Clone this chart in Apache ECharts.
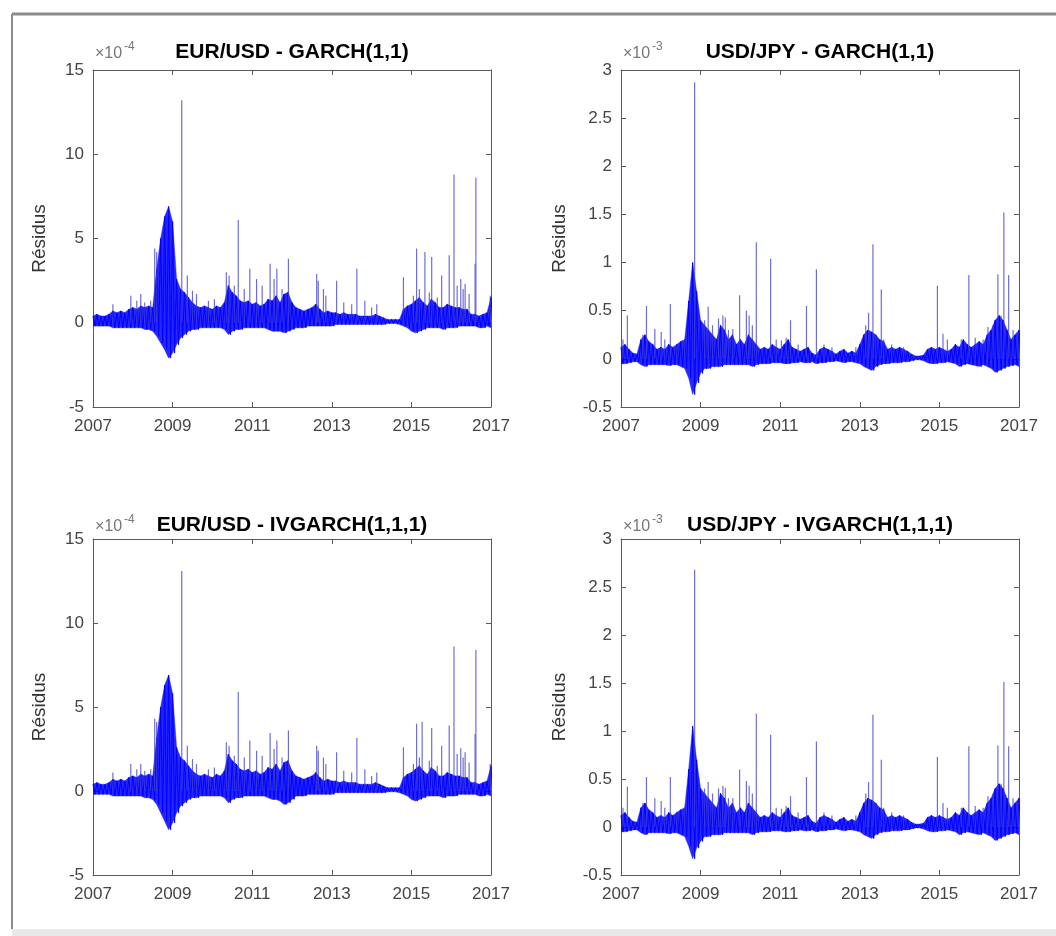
<!DOCTYPE html>
<html>
<head>
<meta charset="utf-8">
<title>Résidus GARCH / IVGARCH</title>
<script src="https://cdn.jsdelivr.net/npm/echarts@6/dist/echarts.min.js"></script>
<style>
  html, body { margin: 0; padding: 0; background: #fff; }
  #chart { width: 1056px; height: 936px; }
</style>
</head>
<body>
<div id="chart"></div>
<script>
// band envelopes sampled every 0.1 year from 2007.0 to 2017.0 (units: x10^-4 for EUR, x10^-3 for JPY)
const eurGarchUpper = [
  0.4, 0.5, 0.4, 0.4, 0.5, 0.7, 0.6, 0.7, 0.6, 0.8,
  0.9, 0.8, 1.0, 0.9, 1.0, 0.9, 3.2, 5.0, 6.3, 6.9,
  6.0, 2.6, 2.0, 1.8, 1.5, 1.2, 1.0, 0.9, 1.0, 0.9,
  0.8, 1.0, 0.9, 1.2, 2.2, 1.8, 1.6, 1.3, 1.2, 1.3,
  1.1, 1.2, 1.0, 1.1, 1.4, 1.3, 1.6, 1.2, 1.7, 1.8,
  1.2, 0.9, 0.8, 0.7, 0.8, 0.9, 1.1, 0.8, 0.6, 0.7,
  0.6, 0.6, 0.5, 0.6, 0.5, 0.5, 0.5, 0.4, 0.4, 0.4,
  0.4, 0.5, 0.4, 0.3, 0.2, 0.2, 0.2, 0.2, 0.8, 1.0,
  1.1, 1.3, 1.5, 1.2, 1.0, 1.4, 1.2, 0.9, 0.9, 1.1,
  1.0, 0.9, 0.9, 0.8, 0.8, 0.5, 0.5, 0.4, 0.5, 0.6, 1.5
];
const eurGarchLower = [
  -0.2, -0.2, -0.2, -0.2, -0.2, -0.3, -0.3, -0.3, -0.3, -0.3,
  -0.3, -0.3, -0.3, -0.4, -0.4, -0.5, -0.8, -1.2, -1.6, -2.1,
  -1.8, -1.3, -0.9, -0.7, -0.5, -0.4, -0.4, -0.3, -0.3, -0.3,
  -0.3, -0.3, -0.3, -0.4, -0.7, -0.5, -0.4, -0.4, -0.3, -0.3,
  -0.3, -0.3, -0.3, -0.3, -0.4, -0.5, -0.5, -0.5, -0.6, -0.5,
  -0.4, -0.3, -0.3, -0.3, -0.2, -0.2, -0.2, -0.2, -0.2, -0.2,
  -0.2, -0.1, -0.1, -0.1, -0.1, -0.1, -0.1, -0.1, -0.1, -0.1,
  -0.1, -0.1, -0.1, -0.1, -0.05, -0.05, -0.05, -0.1, -0.2, -0.3,
  -0.5, -0.6, -0.5, -0.4, -0.3, -0.3, -0.3, -0.3, -0.4, -0.3,
  -0.3, -0.3, -0.2, -0.2, -0.2, -0.2, -0.2, -0.3, -0.3, -0.2, -0.3
];
const eurGarchSpikeYears = [
  2007.50, 2007.95, 2008.10, 2008.20, 2008.30, 2008.45, 2008.55, 2008.60, 2009.23, 2009.37,
  2009.50, 2009.60, 2009.90, 2010.05, 2010.35, 2010.42, 2010.55, 2010.65, 2010.80, 2010.94,
  2011.11, 2011.25, 2011.45, 2011.55, 2011.62, 2011.75, 2011.91, 2012.62, 2012.66, 2012.79,
  2012.85, 2013.12, 2013.30, 2013.50, 2013.63, 2013.83, 2014.00, 2014.13, 2014.80, 2015.05,
  2015.13, 2015.20, 2015.34, 2015.45, 2015.51, 2015.65, 2015.76, 2015.95, 2016.07, 2016.15,
  2016.24, 2016.30, 2016.35, 2016.45, 2016.60, 2016.62, 2016.98
];
const eurGarchSpikeVals = [
  1.1, 1.6, 1.3, 1.7, 1.2, 1.3, 4.4, 4.2, 13.2, 2.8,
  1.9, 1.7, 1.3, 1.4, 3.0, 2.8, 2.2, 6.1, 2.0, 3.2,
  2.6, 2.2, 3.5, 2.6, 3.2, 2.0, 3.8, 2.9, 2.5, 2.0,
  1.6, 2.5, 1.2, 1.1, 3.2, 1.3, 0.9, 1.1, 2.7, 1.6,
  4.4, 2.0, 4.2, 1.8, 3.9, 1.5, 2.8, 4.0, 8.8, 2.2,
  2.6, 2.0, 2.3, 1.7, 3.5, 8.6, 1.6
];

const eurIvUpper = [
  0.4, 0.5, 0.4, 0.4, 0.5, 0.7, 0.6, 0.7, 0.6, 0.8,
  0.9, 0.8, 1.0, 0.9, 1.0, 0.9, 3.2, 5.0, 6.3, 6.9,
  5.8, 2.6, 2.0, 1.8, 1.5, 1.2, 1.0, 0.9, 1.0, 0.9,
  0.8, 1.0, 0.9, 1.2, 2.2, 1.8, 1.6, 1.3, 1.2, 1.3,
  1.1, 1.2, 1.0, 1.1, 1.4, 1.3, 1.6, 1.2, 1.7, 1.8,
  1.2, 0.9, 0.8, 0.7, 0.8, 0.9, 1.1, 0.8, 0.6, 0.7,
  0.6, 0.6, 0.5, 0.6, 0.5, 0.5, 0.5, 0.4, 0.4, 0.4,
  0.4, 0.5, 0.4, 0.3, 0.2, 0.2, 0.2, 0.2, 0.8, 1.0,
  1.1, 1.3, 1.5, 1.2, 1.0, 1.4, 1.2, 0.9, 0.9, 1.1,
  1.0, 0.9, 0.9, 0.8, 0.8, 0.5, 0.5, 0.4, 0.5, 0.6, 1.5
];
const eurIvLower = [
  -0.2, -0.2, -0.2, -0.2, -0.2, -0.3, -0.3, -0.3, -0.3, -0.3,
  -0.3, -0.3, -0.3, -0.4, -0.4, -0.5, -0.8, -1.3, -1.8, -2.3,
  -1.9, -1.3, -0.9, -0.7, -0.5, -0.4, -0.4, -0.3, -0.3, -0.3,
  -0.3, -0.3, -0.3, -0.4, -0.7, -0.5, -0.4, -0.4, -0.3, -0.3,
  -0.3, -0.3, -0.3, -0.3, -0.4, -0.5, -0.5, -0.6, -0.8, -0.7,
  -0.5, -0.3, -0.3, -0.3, -0.2, -0.2, -0.2, -0.2, -0.2, -0.2,
  -0.2, -0.1, -0.1, -0.1, -0.1, -0.1, -0.1, -0.1, -0.1, -0.1,
  -0.1, -0.1, -0.1, -0.1, -0.05, -0.05, -0.05, -0.1, -0.2, -0.3,
  -0.5, -0.6, -0.5, -0.4, -0.3, -0.3, -0.3, -0.3, -0.4, -0.3,
  -0.3, -0.3, -0.2, -0.2, -0.2, -0.2, -0.2, -0.3, -0.3, -0.2, -0.3
];
const eurIvSpikeYears = [
  2007.50, 2007.95, 2008.10, 2008.20, 2008.30, 2008.45, 2008.55, 2008.60, 2009.23, 2009.37,
  2009.50, 2009.60, 2009.90, 2010.05, 2010.35, 2010.42, 2010.55, 2010.65, 2010.80, 2010.94,
  2011.11, 2011.25, 2011.45, 2011.55, 2011.62, 2011.75, 2011.91, 2012.62, 2012.66, 2012.79,
  2012.85, 2013.12, 2013.30, 2013.50, 2013.63, 2013.83, 2014.00, 2014.13, 2014.80, 2015.05,
  2015.13, 2015.20, 2015.27, 2015.45, 2015.51, 2015.65, 2015.76, 2015.95, 2016.07, 2016.15,
  2016.24, 2016.30, 2016.35, 2016.45, 2016.60, 2016.62, 2016.98
];
const eurIvSpikeVals = [
  1.1, 1.6, 1.3, 1.6, 1.2, 1.3, 4.3, 4.1, 13.1, 2.7,
  1.9, 1.6, 1.3, 1.4, 2.9, 2.7, 2.1, 5.9, 2.0, 3.0,
  2.4, 2.1, 3.45, 2.5, 3.0, 2.0, 3.6, 2.7, 2.4, 2.0,
  1.6, 2.3, 1.2, 1.1, 3.15, 1.3, 0.9, 1.1, 2.6, 1.6,
  4.0, 2.0, 4.1, 1.8, 3.75, 1.5, 2.7, 3.9, 8.6, 2.2,
  2.55, 2.0, 2.3, 1.7, 3.4, 8.4, 1.6
];

const jpyGarchUpper = [
  0.12, 0.15, 0.10, 0.06, 0.05, 0.20, 0.25, 0.18, 0.15, 0.10,
  0.12, 0.10, 0.15, 0.12, 0.15, 0.18, 0.20, 0.60, 1.00, 0.70,
  0.40, 0.35, 0.30, 0.25, 0.20, 0.35, 0.30, 0.20, 0.25, 0.15,
  0.20, 0.15, 0.25, 0.20, 0.15, 0.10, 0.12, 0.10, 0.15, 0.12,
  0.10, 0.15, 0.20, 0.12, 0.10, 0.08, 0.10, 0.12, 0.06, 0.04,
  0.10, 0.12, 0.10, 0.08, 0.05, 0.08, 0.10, 0.06, 0.08, 0.06,
  0.15, 0.25, 0.30, 0.28, 0.25, 0.20, 0.18, 0.10, 0.12, 0.10,
  0.12, 0.10, 0.08, 0.05, 0.03, 0.03, 0.04, 0.10, 0.12, 0.10,
  0.12, 0.10, 0.08, 0.10, 0.15, 0.12, 0.20, 0.15, 0.12, 0.15,
  0.18, 0.15, 0.25, 0.30, 0.40, 0.45, 0.40, 0.30, 0.20, 0.25, 0.30
];
const jpyGarchLower = [
  -0.05, -0.05, -0.04, -0.03, -0.03, -0.06, -0.08, -0.06, -0.06, -0.06,
  -0.06, -0.06, -0.07, -0.06, -0.06, -0.08, -0.10, -0.20, -0.37, -0.25,
  -0.15, -0.10, -0.10, -0.08, -0.08, -0.08, -0.06, -0.06, -0.06, -0.06,
  -0.06, -0.06, -0.06, -0.08, -0.06, -0.05, -0.05, -0.05, -0.04, -0.04,
  -0.04, -0.05, -0.05, -0.04, -0.04, -0.03, -0.04, -0.04, -0.03, -0.05,
  -0.04, -0.04, -0.03, -0.03, -0.02, -0.03, -0.04, -0.03, -0.03, -0.04,
  -0.05, -0.08, -0.10, -0.12, -0.08, -0.06, -0.05, -0.05, -0.04, -0.04,
  -0.04, -0.03, -0.03, -0.02, -0.01, -0.01, -0.02, -0.04, -0.05, -0.05,
  -0.04, -0.04, -0.03, -0.04, -0.05, -0.08, -0.06, -0.05, -0.06, -0.07,
  -0.08, -0.06, -0.08, -0.10, -0.14, -0.12, -0.10, -0.08, -0.07, -0.06, -0.08
];
const jpyGarchSpikeYears = [
  2007.05, 2007.16, 2007.55, 2007.64, 2007.85, 2008.01, 2008.10, 2008.24, 2008.40, 2008.60,
  2008.85, 2009.10, 2009.19, 2009.30, 2009.45, 2009.56, 2009.62, 2009.70, 2009.81, 2009.98,
  2010.15, 2010.22, 2010.30, 2010.40, 2010.76, 2010.90, 2011.03, 2011.15, 2011.26, 2011.45,
  2011.66, 2011.91, 2012.10, 2012.30, 2012.90, 2013.15, 2013.22, 2013.33, 2013.40, 2013.54,
  2013.60, 2013.80, 2014.10, 2014.95, 2015.09, 2015.20, 2015.55, 2015.74, 2015.90, 2016.10,
  2016.22, 2016.35, 2016.47, 2016.55, 2016.62, 2016.74, 2016.85, 2016.97
];
const jpyGarchSpikeVals = [
  0.20, 0.45, 0.25, 0.55, 0.31, 0.28, 0.20, 0.57, 0.15, 0.20,
  2.87, 0.40, 0.54, 0.35, 0.42, 0.45, 0.43, 0.30, 0.31, 0.66,
  0.50, 0.45, 0.35, 1.21, 1.04, 0.20, 0.19, 0.22, 0.40, 0.15,
  0.55, 0.93, 0.15, 0.12, 0.12, 0.35, 0.48, 1.19, 0.25, 0.72,
  0.20, 0.15, 0.12, 0.76, 0.26, 0.20, 0.20, 0.87, 0.22, 0.20,
  0.33, 0.35, 0.88, 0.45, 1.52, 0.87, 0.30, 0.28
];

const jpyIvUpper = [
  0.12, 0.15, 0.10, 0.06, 0.05, 0.20, 0.25, 0.18, 0.15, 0.10,
  0.12, 0.10, 0.15, 0.12, 0.15, 0.18, 0.20, 0.60, 1.05, 0.70,
  0.40, 0.35, 0.30, 0.25, 0.20, 0.35, 0.30, 0.20, 0.25, 0.15,
  0.20, 0.15, 0.25, 0.20, 0.15, 0.10, 0.12, 0.10, 0.15, 0.12,
  0.10, 0.15, 0.20, 0.12, 0.10, 0.08, 0.10, 0.12, 0.06, 0.04,
  0.10, 0.12, 0.10, 0.08, 0.05, 0.08, 0.10, 0.06, 0.08, 0.06,
  0.15, 0.25, 0.30, 0.28, 0.25, 0.20, 0.18, 0.10, 0.12, 0.10,
  0.12, 0.10, 0.08, 0.05, 0.03, 0.03, 0.04, 0.10, 0.12, 0.10,
  0.12, 0.10, 0.08, 0.10, 0.15, 0.12, 0.20, 0.15, 0.12, 0.15,
  0.18, 0.15, 0.25, 0.30, 0.40, 0.45, 0.40, 0.30, 0.20, 0.25, 0.30
];
const jpyIvLower = [
  -0.05, -0.05, -0.04, -0.03, -0.03, -0.06, -0.08, -0.06, -0.06, -0.06,
  -0.06, -0.06, -0.07, -0.06, -0.06, -0.08, -0.10, -0.20, -0.33, -0.22,
  -0.15, -0.10, -0.10, -0.08, -0.08, -0.08, -0.06, -0.06, -0.06, -0.06,
  -0.06, -0.06, -0.06, -0.08, -0.06, -0.05, -0.05, -0.05, -0.04, -0.04,
  -0.04, -0.05, -0.05, -0.04, -0.04, -0.03, -0.04, -0.04, -0.03, -0.05,
  -0.04, -0.04, -0.03, -0.03, -0.02, -0.03, -0.04, -0.03, -0.03, -0.04,
  -0.05, -0.08, -0.10, -0.12, -0.08, -0.06, -0.05, -0.05, -0.04, -0.04,
  -0.04, -0.03, -0.03, -0.02, -0.01, -0.01, -0.02, -0.04, -0.05, -0.05,
  -0.04, -0.04, -0.03, -0.04, -0.05, -0.08, -0.06, -0.05, -0.06, -0.07,
  -0.08, -0.06, -0.08, -0.10, -0.14, -0.12, -0.10, -0.08, -0.07, -0.06, -0.08
];
const jpyIvSpikeYears = [
  2007.05, 2007.16, 2007.55, 2007.64, 2007.85, 2008.01, 2008.10, 2008.24, 2008.40, 2008.60,
  2008.85, 2009.10, 2009.19, 2009.30, 2009.45, 2009.56, 2009.62, 2009.70, 2009.81, 2009.98,
  2010.15, 2010.22, 2010.30, 2010.40, 2010.76, 2010.90, 2011.03, 2011.15, 2011.26, 2011.45,
  2011.66, 2011.91, 2012.10, 2012.30, 2012.90, 2013.15, 2013.22, 2013.33, 2013.40, 2013.54,
  2013.60, 2013.80, 2014.10, 2014.95, 2015.09, 2015.20, 2015.55, 2015.74, 2015.90, 2016.10,
  2016.22, 2016.35, 2016.47, 2016.55, 2016.62, 2016.74, 2016.85, 2016.97
];
const jpyIvSpikeVals = [
  0.20, 0.42, 0.25, 0.52, 0.30, 0.27, 0.20, 0.52, 0.15, 0.20,
  2.68, 0.40, 0.47, 0.35, 0.40, 0.43, 0.41, 0.30, 0.30, 0.60,
  0.48, 0.43, 0.35, 1.18, 0.96, 0.20, 0.19, 0.22, 0.32, 0.15,
  0.52, 0.89, 0.15, 0.12, 0.12, 0.35, 0.47, 1.17, 0.25, 0.70,
  0.20, 0.15, 0.12, 0.73, 0.25, 0.20, 0.20, 0.84, 0.22, 0.20,
  0.32, 0.35, 0.85, 0.45, 1.51, 0.84, 0.30, 0.25
];

const yearTicks = [2007, 2009, 2011, 2013, 2015, 2017];

const FONT = "'Liberation Sans', Arial, sans-serif";

// zigzag between upper and lower envelope, like the dense matlab trace
function band(upper, lower) {
  const pts = [];
  for (let i = 0; i < upper.length; i++) {
    const x = 2007 + i * 0.1;
    pts.push([x, upper[i]]);
    pts.push([x + 0.05, lower[i]]);
  }
  return pts;
}

function spikes(years, vals) {
  const pts = [];
  years.forEach((x, i) => {
    pts.push([x, 0], [x, vals[i]], [x, "-"]);
  });
  return pts;
}

// filled envelope polygon, drawn through the axis scales
function envelope(upper, lower) {
  return function (params, api) {
    const pts = [];
    for (let i = 0; i < upper.length; i++) pts.push(api.coord([2007 + i * 0.1, upper[i]]));
    for (let i = lower.length - 1; i >= 0; i--) pts.push(api.coord([2007 + i * 0.1, lower[i]]));
    return {
      type: "polygon",
      shape: { points: pts },
      style: { fill: "rgba(0,0,255,0.85)", stroke: "rgba(40,40,230,0.6)", lineWidth: 0.8 },
    };
  };
}

const panels = [
  { title: "EUR/USD - GARCH(1,1)", exp: "-4", upper: eurGarchUpper, lower: eurGarchLower,
    sy: eurGarchSpikeYears, sv: eurGarchSpikeVals, ymin: -5, ymax: 15, step: 5,
    left: 93, top: 70, height: 337, nameGap: 44, titleY: 52 },
  { title: "USD/JPY - GARCH(1,1)", exp: "-3", upper: jpyGarchUpper, lower: jpyGarchLower,
    sy: jpyGarchSpikeYears, sv: jpyGarchSpikeVals, ymin: -0.5, ymax: 3, step: 0.5,
    left: 621, top: 70, height: 337, nameGap: 52, titleY: 52 },
  { title: "EUR/USD - IVGARCH(1,1,1)", exp: "-4", upper: eurIvUpper, lower: eurIvLower,
    sy: eurIvSpikeYears, sv: eurIvSpikeVals, ymin: -5, ymax: 15, step: 5,
    left: 93, top: 539, height: 336, nameGap: 44, titleY: 525 },
  { title: "USD/JPY - IVGARCH(1,1,1)", exp: "-3", upper: jpyIvUpper, lower: jpyIvLower,
    sy: jpyIvSpikeYears, sv: jpyIvSpikeVals, ymin: -0.5, ymax: 3, step: 0.5,
    left: 621, top: 539, height: 336, nameGap: 52, titleY: 525 },
];

const axisLine = { show: true, onZero: false, lineStyle: { color: "#5a5a5a", width: 1 } };
const tick = { inside: true, length: 5, lineStyle: { color: "#5a5a5a" } };

const grid = [], xAxis = [], yAxis = [], series = [], graphic = [];

panels.forEach((p, g) => {
  grid.push({ left: p.left, top: p.top, width: 398, height: p.height });

  xAxis.push({
    type: "value", gridIndex: g, min: 2007, max: 2017, interval: 2,
    axisLine, splitLine: { show: false }, axisTick: tick,
    axisLabel: { color: "#444", fontSize: 17, fontFamily: FONT, margin: 11,
      formatter: (v) => (yearTicks.includes(v) ? String(v) : "") },
  });
  xAxis.push({
    type: "value", gridIndex: g, position: "top", min: 2007, max: 2017, interval: 2,
    axisLine, splitLine: { show: false }, axisTick: tick,
    axisLabel: { show: false },
  });
  yAxis.push({
    type: "value", gridIndex: g, min: p.ymin, max: p.ymax, interval: p.step,
    axisLine, splitLine: { show: false }, axisTick: tick,
    axisLabel: { color: "#444", fontSize: 17, fontFamily: FONT, margin: 9 },
    name: "Résidus", nameLocation: "middle", nameGap: p.nameGap,
    nameTextStyle: { color: "#333", fontSize: 19, fontFamily: FONT },
  });
  yAxis.push({
    type: "value", gridIndex: g, position: "right", min: p.ymin, max: p.ymax, interval: p.step,
    axisLine, splitLine: { show: false }, axisTick: tick,
    axisLabel: { show: false },
  });

  series.push({
    type: "custom", xAxisIndex: 2 * g, yAxisIndex: 2 * g,
    data: [[2007, 0]], renderItem: envelope(p.upper, p.lower),
    clip: true, animation: false, silent: true,
  });
  series.push({
    type: "line", xAxisIndex: 2 * g, yAxisIndex: 2 * g,
    data: band(p.upper, p.lower), showSymbol: false, animation: false,
    lineStyle: { color: "#0000ff", width: 1 },
  });
  series.push({
    type: "line", xAxisIndex: 2 * g, yAxisIndex: 2 * g,
    data: spikes(p.sy, p.sv), showSymbol: false, animation: false,
    connectNulls: false,
    lineStyle: { color: "rgba(60,60,205,0.75)", width: 1.2 },
  });

  // title + exponent note
  graphic.push({
    type: "text", x: p.left + 199, y: p.titleY,
    style: { text: p.title, font: "bold 21px " + FONT, fill: "#000",
      align: "center", verticalAlign: "middle", textAlign: "center", textVerticalAlign: "middle" },
  });
  graphic.push({
    type: "text", x: p.left + 2, y: p.titleY + 2,
    style: { text: "×10", font: "16px " + FONT, fill: "#777",
      align: "left", verticalAlign: "middle", textAlign: "left", textVerticalAlign: "middle" },
  });
  graphic.push({
    type: "text", x: p.left + 31, y: p.titleY - 5,
    style: { text: p.exp, font: "12px " + FONT, fill: "#777",
      align: "left", verticalAlign: "middle", textAlign: "left", textVerticalAlign: "middle" },
  });
});

// outer figure frame
graphic.push(
  { type: "line", shape: { x1: 12, y1: 14, x2: 1056, y2: 14 }, style: { stroke: "#8c8c8c", lineWidth: 3 } },
  { type: "line", shape: { x1: 12, y1: 14, x2: 12, y2: 929 }, style: { stroke: "#8c8c8c", lineWidth: 2 } },
  { type: "rect", shape: { x: 12, y: 929, width: 1044, height: 7 }, style: { fill: "#e8e8e8" } }
);

const chart = echarts.init(document.getElementById("chart"));
chart.setOption({
  backgroundColor: "#fff",
  animation: false,
  grid, xAxis, yAxis, series, graphic,
});
</script>
</body>
</html>
